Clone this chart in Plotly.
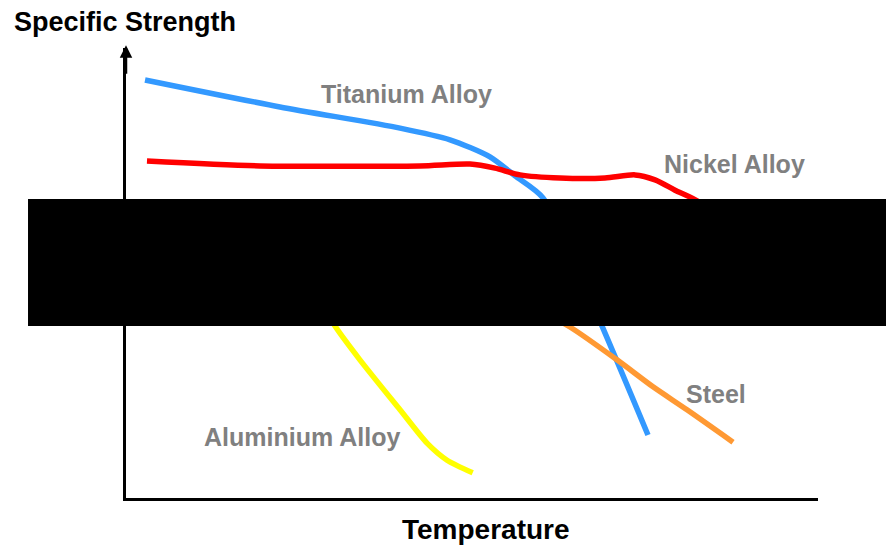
import plotly.graph_objects as go

# Data (arbitrary units: temperature 0-100, specific strength 0-100)
titanium_t = [2.75, 22.25, 39.6, 46.82, 52.6, 56.21, 60.26, 67.77, 75.43]
titanium_s = [92.9, 86.9, 82.2, 79.6, 75.8, 71.6, 66.7, 41.8, 14.0]

nickel_t = [3.03, 19.36, 42.49, 49.71, 53.32, 56.94, 62.72, 69.22, 73.55, 76.45, 79.34, 82.95, 88.73]
nickel_s = [74.9, 73.8, 73.8, 74.2, 73.3, 71.8, 71.1, 71.1, 71.8, 70.7, 68.4, 65.6, 55.1]

aluminium_t = [3.5, 17.9, 28.0, 30.2, 33.8, 39.6, 43.5, 46.4, 50.1]
aluminium_s = [62.9, 54.0, 44.0, 38.2, 30.7, 19.6, 12.2, 8.4, 5.6]

steel_t = [3.5, 25.1, 46.8, 56.94, 64.16, 70.95, 76.16, 81.07, 87.72]
steel_s = [57.3, 54.0, 49.6, 44.0, 38.0, 30.7, 24.7, 19.6, 12.4]

labels = ["Titanium Alloy", "Nickel Alloy", "Steel", "Aluminium Alloy"]
label_t = [40.6, 87.9, 85.3, 25.4]
label_s = [89.8, 74.2, 23.1, 13.6]

series = [
    (titanium_t, titanium_s, "#3399FF"),
    (nickel_t, nickel_s, "#FF0000"),
    (aluminium_t, aluminium_s, "#FFFF00"),
    (steel_t, steel_s, "#FF9933"),
]

FONT = "Liberation Sans, Arial, sans-serif"

fig = go.Figure()
for t, s, c in series:
    fig.add_trace(go.Scatter(x=t, y=s, mode="lines",
                             line=dict(color=c, width=5.5, shape="spline", smoothing=0.7),
                             showlegend=False, hoverinfo="skip"))

for name, t, s in zip(labels, label_t, label_s):
    fig.add_annotation(x=t, y=s, text=f"<b>{name}</b>", showarrow=False,
                       xanchor="center", yanchor="middle",
                       font=dict(family=FONT, size=25, color="#808080"))

fig.add_annotation(x=-0.1647, y=1.0578, xref="paper", yref="paper",
                   xanchor="left", yanchor="middle",
                   text="<b>Specific Strength</b>", showarrow=False,
                   font=dict(family=FONT, size=27, color="#000000"))
fig.add_annotation(x=0.520, y=-0.0711, xref="paper", yref="paper",
                   xanchor="center", yanchor="middle",
                   text="<b>Temperature</b>", showarrow=False,
                   font=dict(family=FONT, size=28, color="#000000"))

# arrow on y axis
fig.add_annotation(x=0, y=1.006, xref="paper", yref="paper", ax=0, ay=30,
                   text="", showarrow=True, arrowhead=2, arrowsize=1, arrowwidth=2.5,
                   arrowcolor="#000000")

# redaction box
fig.add_shape(type="rect", xref="paper", yref="paper",
              x0=-0.1416, x1=1.1, y0=0.382, y1=0.6644,
              fillcolor="#000000", line=dict(width=0), layer="above")

fig.update_xaxes(range=[0, 100], showline=True, linecolor="#000000", linewidth=3,
                 showgrid=False, zeroline=False, showticklabels=False, ticks="")
fig.update_yaxes(range=[0, 100], showline=True, linecolor="#000000", linewidth=3,
                 showgrid=False, zeroline=False, showticklabels=False, ticks="")

fig.update_layout(width=886, height=545, margin=dict(l=126, r=68, t=48, b=47),
                  paper_bgcolor="#FFFFFF", plot_bgcolor="#FFFFFF")

fig.write_html("out.html", config={"displayModeBar": False},
               post_script="document.body.style.margin='0';document.body.style.overflow='hidden';")
